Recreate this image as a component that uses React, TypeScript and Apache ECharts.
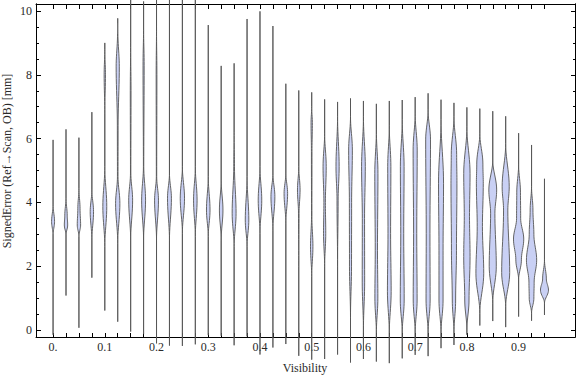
import React, { useEffect, useRef } from "react";
import * as echarts from "echarts";

// Visibility bins (x positions of violins)
const visibility = [
  0, 0.025, 0.05, 0.075, 0.1, 0.125, 0.15, 0.175, 0.2, 0.225,
  0.25, 0.275, 0.3, 0.325, 0.35, 0.375, 0.4, 0.425, 0.45, 0.475,
  0.5, 0.525, 0.55, 0.575, 0.6, 0.625, 0.65, 0.675, 0.7, 0.725,
  0.75, 0.775, 0.8, 0.825, 0.85, 0.875, 0.9, 0.925, 0.95,
];

// Minimum and maximum signed error per bin [mm]
const minError = [
  -0.15, 1.08, 0.07, 1.64, 0.61, 0.26, -0.05, -0.13, -0.42, -0.49,
  -0.5, -0.45, -0.16, -0.18, -0.48, -0.2, -0.77, -0.55, -0.44, -0.81,
  -0.93, -0.91, -0.77, -1.02, -0.91, -0.99, -1.04, -0.89, -0.78, -0.82,
  -0.57, -0.47, -0.15, 0.14, 0.28, 0.09, 0.42, 0.29, 0.47,
];
const maxError = [
  5.96, 6.29, 6.03, 6.83, 9.0, 9.77, 10.8, 10.3, 11.0, 11.0,
  10.8, 10.9, 9.56, 8.28, 8.36, 9.75, 9.99, 9.53, 7.72, 7.51,
  7.45, 7.23, 7.15, 7.26, 7.18, 7.09, 7.18, 7.21, 7.3, 7.42,
  7.22, 7.12, 6.98, 6.94, 6.86, 6.7, 6.17, 5.8, 4.74,
];

// Density profile knots per bin: [signed error, relative density]
const densityProfiles: number[][][] = [
  [[2.98, 0], [3.4, 1.6], [3.92, 0]],
  [[2.98, 0], [3.29, 1.8], [3.6, 1.3], [4.13, 0]],
  [[2.93, 0], [3.29, 1.8], [3.8, 1.2], [4.44, 0]],
  [[2.82, 0], [3.71, 1.8], [4.39, 0]],
  [[2.61, 0], [3.87, 2.1], [5.12, 0], [6.8, 0], [8.0, 0.7], [8.8, 0]],
  [[2.72, 0], [3.97, 2.3], [4.81, 0.3], [6.4, 0.4], [8.25, 1.7], [9.3, 0.2], [9.6, 0]],
  [[2.82, 0], [4.07, 2.1], [4.92, 0.2], [7.5, 0.4], [9.0, 0]],
  [[2.82, 0], [4.07, 2.1], [5.12, 0.2], [8.3, 0.6], [9.5, 0]],
  [[2.82, 0], [4.07, 2.1], [4.81, 0.2], [8.0, 0.4], [9.5, 0]],
  [[2.82, 0], [4.13, 2.1], [4.92, 0]],
  [[3.03, 0], [4.13, 2.3], [5.12, 0]],
  [[2.93, 0], [4.07, 1.9], [5.12, 0]],
  [[2.93, 0], [3.76, 1.9], [4.81, 0]],
  [[2.82, 0], [3.76, 1.9], [4.7, 0]],
  [[2.61, 0], [3.66, 2.1], [5.12, 0.4], [6.2, 0]],
  [[2.61, 0], [3.45, 1.9], [4.81, 0]],
  [[3.03, 0], [4.07, 1.9], [5.12, 0]],
  [[3.13, 0], [4.18, 2.1], [4.92, 0]],
  [[3.35, 0], [4.28, 1.9], [4.92, 0]],
  [[2.0, 0], [3.66, 0.3], [4.39, 1.4], [5.12, 0]],
  [[1.67, 0], [2.61, 1.3], [3.55, 0.2], [5.6, 0.3], [6.5, 0.7], [7.0, 0]],
  [[1.98, 0], [3.03, 1.2], [4.0, 0.8], [5.12, 1.7], [6.17, 0]],
  [[2.0, 0], [4.07, 0.6], [5.12, 1.7], [6.69, 0]],
  [[0.4, 0], [2.0, 1.1], [4.0, 1.2], [5.64, 2.0], [6.69, 0]],
  [[0.0, 0], [1.5, 1.3], [3.5, 1.2], [5.12, 2.0], [6.69, 0]],
  [[-0.1, 0], [1.0, 1.6], [2.5, 1.2], [4.9, 1.7], [6.27, 0]],
  [[-0.1, 0], [1.2, 2.0], [3.03, 1.4], [5.12, 1.7], [6.4, 0]],
  [[-0.1, 0], [0.94, 2.1], [3.03, 1.6], [5.12, 2.0], [6.6, 0]],
  [[-0.1, 0], [0.94, 2.1], [3.03, 1.7], [5.64, 2.2], [6.8, 0]],
  [[-0.1, 0], [0.94, 2.2], [3.03, 2.0], [5.96, 2.6], [6.9, 0]],
  [[-0.1, 0], [0.94, 2.2], [2.5, 2.2], [4.6, 2.7], [6.6, 0]],
  [[-0.1, 0], [0.94, 1.8], [2.5, 2.7], [4.6, 3.2], [5.5, 2.9], [6.7, 0]],
  [[0.0, 0], [0.94, 2.3], [2.3, 3.4], [3.55, 2.8], [4.9, 3.4], [6.37, 0]],
  [[0.52, 0], [1.78, 4.2], [3.24, 2.8], [4.6, 3.7], [5.2, 3.3], [6.17, 0]],
  [[0.84, 0], [2.0, 3.8], [3.66, 2.3], [4.39, 4.2], [5.33, 0]],
  [[0.73, 0], [1.8, 4.3], [3.76, 2.3], [4.49, 3.8], [5.85, 0]],
  [[1.57, 0], [2.2, 3], [2.85, 5.5], [3.5, 2.2], [4.3, 2], [5.2, 0]],
  [[0.52, 0], [1.0, 2.5], [1.5, 2.8], [2.19, 5.5], [3.0, 2.5], [3.76, 1.5], [4.5, 0]],
  [[0.84, 0], [1.25, 4.3], [1.6, 2], [2.2, 0]],
];

// Tick values
const xTickValues = visibility;
const xLabelValues = [0, 0.1, 0.2, 0.3, 0.4, 0.5, 0.6, 0.7, 0.8, 0.9];
const yLabelValues = [0, 2, 4, 6, 8, 10];
const yMinorTickValues = [
  0, 0.5, 1, 1.5, 2, 2.5, 3, 3.5, 4, 4.5, 5, 5.5, 6, 6.5, 7, 7.5, 8, 8.5, 9, 9.5, 10,
];

const WIDTH_UNIT = 0.0018; // x data units per density unit
const FONT = "'Liberation Serif', 'DejaVu Serif', serif";
const TEXT_COLOR = "#2a2a2a";

export default function App() {
  const ref = useRef<HTMLDivElement>(null);

  useEffect(() => {
    if (!ref.current) return;
    const chart = echarts.init(ref.current, undefined, { renderer: "svg" });

    const renderItem = (params: any, api: any) => {
      const i = api.value(3);
      const x = visibility[i];
      const lo = minError[i];
      const hi = maxError[i];
      const knots = [[lo, 0], ...densityProfiles[i], [hi, 0]];
      const right: number[][] = [];
      for (let k = 0; k < knots.length - 1; k++) {
        const a = knots[k];
        const b = knots[k + 1];
        const steps = a[1] === 0 && b[1] === 0 ? 1 : 10;
        for (let s = 0; s < steps; s++) {
          const t = s / steps;
          const y = a[0] + (b[0] - a[0]) * t;
          const d = a[1] + (b[1] - a[1]) * (1 - Math.cos(Math.PI * t)) / 2;
          right.push([y, d]);
        }
      }
      right.push([hi, 0]);
      const pts: number[][] = [];
      for (const [y, d] of right) pts.push(api.coord([x + d * WIDTH_UNIT, y]));
      for (let k = right.length - 1; k >= 0; k--) {
        const [y, d] = right[k];
        pts.push(api.coord([x - d * WIDTH_UNIT, y]));
      }
      return {
        type: "polygon",
        shape: { points: pts },
        style: { fill: "#c9d0f4", stroke: "#555", lineWidth: 0.9 },
      };
    };

    const tickLabelStyle = {
      color: TEXT_COLOR,
      fontFamily: FONT,
      fontSize: 12,
    };

    const axisLine = {
      show: true,
      onZero: false,
      lineStyle: { color: "#000", width: 1 },
    };

    chart.setOption({
      animation: false,
      backgroundColor: "#fff",
      grid: { left: 36, top: 4, width: 539, height: 333 },
      xAxis: [
        {
          type: "value",
          position: "bottom",
          min: -0.033,
          max: 1.009,
          axisLine,
          splitLine: { show: false },
          axisTick: {
            show: true,
            inside: true,
            length: 4,
            customValues: xTickValues,
            lineStyle: { color: "#000" },
          },
          axisLabel: {
            ...tickLabelStyle,
            margin: 4,
            customValues: xLabelValues,
            formatter: (v: number) => (v === 0 ? "0." : v.toFixed(1)),
          },
        },
        {
          type: "value",
          position: "top",
          min: -0.033,
          max: 1.009,
          axisLine,
          splitLine: { show: false },
          axisTick: {
            show: true,
            inside: true,
            length: 5,
            customValues: xTickValues,
            lineStyle: { color: "#000" },
          },
          axisLabel: { show: false },
        },
      ],
      yAxis: [
        {
          type: "value",
          position: "left",
          min: -0.22,
          max: 10.22,
          axisLine,
          splitLine: { show: false },
          axisTick: {
            show: true,
            inside: true,
            length: 5,
            customValues: yLabelValues,
            lineStyle: { color: "#000" },
          },
          axisLabel: {
            ...tickLabelStyle,
            margin: 4,
            customValues: yLabelValues,
            formatter: (v: number) => String(v),
          },
        },
        {
          type: "value",
          position: "left",
          min: -0.22,
          max: 10.22,
          axisLine,
          splitLine: { show: false },
          axisTick: {
            show: true,
            inside: true,
            length: 3,
            customValues: yMinorTickValues,
            lineStyle: { color: "#000" },
          },
          axisLabel: { show: false },
        },
        {
          type: "value",
          position: "right",
          min: -0.22,
          max: 10.22,
          axisLine,
          splitLine: { show: false },
          axisTick: {
            show: true,
            inside: true,
            length: 4,
            customValues: yLabelValues,
            lineStyle: { color: "#000" },
          },
          axisLabel: { show: false },
        },
        {
          type: "value",
          position: "right",
          min: -0.22,
          max: 10.22,
          axisLine,
          splitLine: { show: false },
          axisTick: {
            show: true,
            inside: true,
            length: 2,
            customValues: yMinorTickValues,
            lineStyle: { color: "#000" },
          },
          axisLabel: { show: false },
        },
      ],
      graphic: [
        {
          type: "text",
          x: 7,
          y: 161,
          rotation: Math.PI / 2,
          style: {
            text: "SignedError (Ref→Scan, OB) [mm]",
            fill: TEXT_COLOR,
            font: `12px ${FONT}`,
            align: "center",
            verticalAlign: "middle",
          },
        },
        {
          type: "text",
          x: 305,
          y: 368,
          style: {
            text: "Visibility",
            fill: TEXT_COLOR,
            font: `12px ${FONT}`,
            align: "center",
            verticalAlign: "middle",
          },
        },
      ],
      series: [
        {
          type: "custom",
          xAxisIndex: 0,
          yAxisIndex: 0,
          clip: false,
          renderItem,
          encode: { x: 0, y: [1, 2] },
          data: visibility.map((v, i) => [v, minError[i], maxError[i], i]),
        },
      ],
    });

    return () => chart.dispose();
  }, []);

  return (
    <div
      ref={ref}
      style={{ width: 576, height: 377, position: "absolute", left: 0, top: 0 }}
    />
  );
}
